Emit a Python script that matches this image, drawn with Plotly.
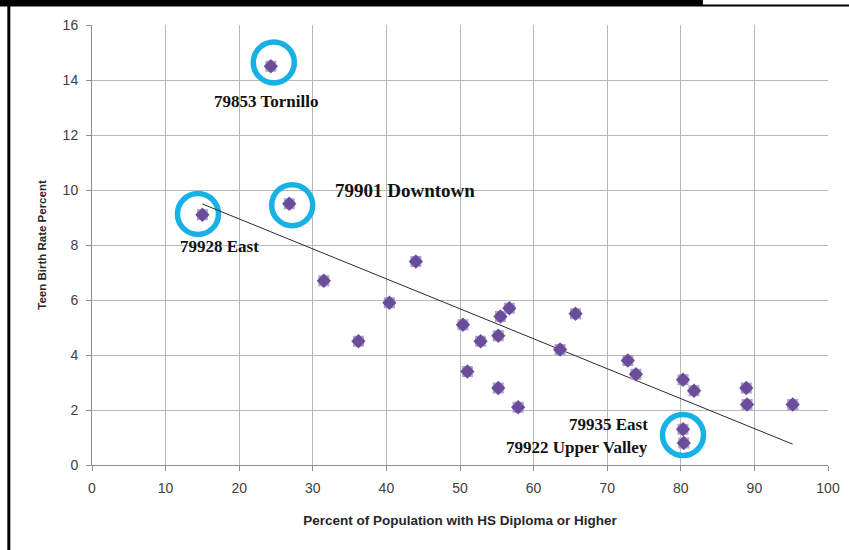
import numpy as np
import plotly.graph_objects as go

# ---- data ----
hs_diploma_pct = [24.3, 15.0, 26.8, 31.5, 36.2, 40.4, 44.0, 50.4, 51.0, 52.8, 55.2, 55.2, 55.5,
                  56.7, 57.9, 63.6, 65.7, 72.8, 73.9, 80.3, 81.8, 88.9, 89.0, 95.2, 80.3, 80.4]
teen_birth_pct = [14.5, 9.1, 9.5, 6.7, 4.5, 5.9, 7.4, 5.1, 3.4, 4.5, 2.8, 4.7, 5.4,
                  5.7, 2.1, 4.2, 5.5, 3.8, 3.3, 3.1, 2.7, 2.8, 2.2, 2.2, 1.3, 0.8]

highlight_x = [24.7, 14.4, 27.2, 80.3]
highlight_y = [14.64, 9.13, 9.45, 1.09]

label_text = ["79853 Tornillo", "79901 Downtown", "79928 East", "79935 East", "79922 Upper Valley"]
label_x = [23.6, 42.5, 17.3, 75.8, 75.8]
label_y = [13.21, 9.97, 7.94, 1.49, 0.65]
label_size = [17, 19, 17, 17, 17]
label_anchor = ["center", "center", "center", "right", "right"]

x_ticks = list(range(0, 101, 10))
y_ticks = list(range(0, 17, 2))

# linear trendline (least squares) over the data range
xa = np.array(hs_diploma_pct)
ya = np.array(teen_birth_pct)
slope, intercept = np.polyfit(xa, ya, 1)
trend_x = [xa.min(), xa.max()]
trend_y = [slope * v + intercept for v in trend_x]

fig = go.Figure()

fig.add_trace(go.Scatter(x=highlight_x, y=highlight_y, mode="markers",
                         marker=dict(symbol="circle-open", size=41, color="#17b1e6",
                                     line=dict(width=5.5, color="#17b1e6")),
                         hoverinfo="skip", showlegend=False))

fig.add_trace(go.Scatter(x=trend_x, y=trend_y, mode="lines",
                         line=dict(color="#2b2b2b", width=1), showlegend=False))

fig.add_trace(go.Scatter(x=hs_diploma_pct, y=teen_birth_pct, mode="markers",
                         marker=dict(symbol="square", size=11, color="#ada1cb",
                                     line=dict(width=0)),
                         hoverinfo="skip", showlegend=False))
fig.add_trace(go.Scatter(x=hs_diploma_pct, y=teen_birth_pct, mode="markers",
                         marker=dict(symbol="diamond", size=11, color="#6a4c9b",
                                     line=dict(width=0)),
                         showlegend=False))

for t, lx, ly, s, a in zip(label_text, label_x, label_y, label_size, label_anchor):
    fig.add_annotation(x=lx, y=ly, text="<b>" + t + "</b>", showarrow=False, xanchor=a,
                       yanchor="middle",
                       font=dict(family="Liberation Serif", size=s, color="#111111"))

# outer frame decorations
fig.add_shape(type="rect", xref="paper", yref="paper", x0=-0.13, x1=0.830, y0=1.0435, y1=1.08,
              fillcolor="black", line=dict(width=0), layer="above")
fig.add_shape(type="line", xref="paper", yref="paper", x0=-0.13, x1=1.03, y0=1.0445, y1=1.0445,
              line=dict(color="black", width=2))
fig.add_shape(type="line", xref="paper", yref="paper", x0=-0.113, x1=-0.113, y0=1.047, y1=-0.2,
              line=dict(color="black", width=3))

axis_font = dict(family="Liberation Sans", size=14, color="#404040")

fig.update_layout(
    width=849, height=550,
    margin=dict(l=92, r=21, t=25, b=85),
    paper_bgcolor="white", plot_bgcolor="white",
    showlegend=False,
    xaxis=dict(range=[0, 100], tickvals=x_ticks, showgrid=True, gridcolor="#b8b8b8", gridwidth=1,
               zeroline=False, showline=True, linecolor="#8c8c8c", linewidth=1,
               ticks="outside", ticklen=5, tickcolor="#8c8c8c", tickfont=axis_font,
               ticklabelstandoff=5, automargin=False,
               title=dict(text="<b>Percent of Population with HS Diploma or Higher</b>",
                          font=dict(family="Liberation Sans", size=13.5, color="#262626"),
                          standoff=20)),
    yaxis=dict(range=[0, 16], tickvals=y_ticks, showgrid=True, gridcolor="#b8b8b8", gridwidth=1,
               zeroline=False, showline=True, linecolor="#8c8c8c", linewidth=1,
               ticks="outside", ticklen=5, tickcolor="#8c8c8c", tickfont=axis_font,
               ticklabelstandoff=5, automargin=False,
               title=dict(text="<b>Teen Birth Rate Percent</b>",
                          font=dict(family="Liberation Sans", size=11.5, color="#262626"),
                          standoff=13)),
)

fig.write_html("out.html", config={"displayModeBar": False},
               post_script="document.body.style.margin='0px';")
